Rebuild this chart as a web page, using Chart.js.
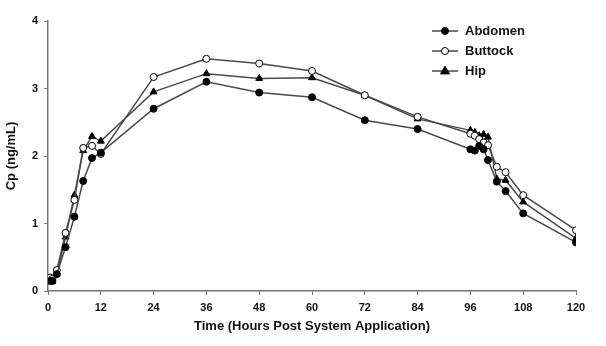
<!DOCTYPE html>
<html>
<head>
<meta charset="utf-8">
<script src="https://cdn.jsdelivr.net/npm/chart.js@4/dist/chart.umd.min.js"></script>
<style>
  html, body { margin: 0; padding: 0; background: #fff; }
  #wrap { width: 606px; height: 346px; }
</style>
</head>
<body>
<div id="wrap"><canvas id="c" width="606" height="346"></canvas></div>
<script>
const times = [0.5, 1, 2, 4, 6, 8, 10, 12, 24, 36, 48, 60, 72, 84, 96, 97, 98, 99, 100, 102, 104, 108, 120];
const abdomen = [0.15, 0.15, 0.25, 0.65, 1.1, 1.63, 1.97, 2.05, 2.7, 3.1, 2.94, 2.87, 2.53, 2.4, 2.1, 2.08, 2.15, 2.1, 1.94, 1.62, 1.48, 1.15, 0.72];
const buttock = [0.2, 0.18, 0.31, 0.86, 1.35, 2.12, 2.15, 2.03, 3.17, 3.44, 3.37, 3.26, 2.9, 2.58, 2.33, 2.3, 2.25, 2.2, 2.16, 1.84, 1.76, 1.42, 0.9];
const hip = [0.14, 0.14, 0.25, 0.8, 1.42, 2.08, 2.29, 2.22, 2.95, 3.22, 3.15, 3.16, 2.9, 2.55, 2.38, 2.35, 2.3, 2.32, 2.28, 1.66, 1.64, 1.32, 0.78];
const xTicks = [0, 12, 24, 36, 48, 60, 72, 84, 96, 108, 120];
const yTicks = [0, 1, 2, 3, 4];
const seriesNames = ['Abdomen', 'Buttock', 'Hip'];

const toPts = arr => times.map((t, i) => ({x: t, y: arr[i]}));
const lineColor = '#4a4a4a';
const FONT = 'Liberation Sans, Arial, sans-serif';

const legendPlugin = {
  id: 'customLegend',
  afterDraw(chart) {
    const ctx = chart.ctx;
    const x0 = 432, y0 = 31, dy = 20;
    chart.data.datasets.forEach((ds, i) => {
      const y = y0 + i * dy;
      ctx.save();
      ctx.strokeStyle = lineColor;
      ctx.lineWidth = 1.5;
      ctx.beginPath();
      ctx.moveTo(x0, y);
      ctx.lineTo(x0 + 26, y);
      ctx.stroke();
      const r = ds.pointRadius;
      ctx.fillStyle = ds.pointBackgroundColor;
      ctx.strokeStyle = ds.pointBorderColor;
      ctx.lineWidth = ds.pointBorderWidth;
      ctx.beginPath();
      const cx = x0 + 13;
      if (ds.pointStyle === 'triangle') {
        const rr = r * 1.2;
        ctx.moveTo(cx, y - rr);
        ctx.lineTo(cx + rr * 0.95, y + rr * 0.6);
        ctx.lineTo(cx - rr * 0.95, y + rr * 0.6);
        ctx.closePath();
      } else {
        ctx.arc(cx, y, r, 0, Math.PI * 2);
      }
      ctx.fill();
      ctx.stroke();
      ctx.fillStyle = '#111';
      ctx.font = 'bold 13px ' + FONT;
      ctx.textBaseline = 'middle';
      ctx.textAlign = 'left';
      ctx.fillText(ds.label, x0 + 33, y);
      ctx.restore();
    });
  }
};

const mk = (label, data, style, fill) => ({
  label,
  data: toPts(data),
  borderColor: lineColor,
  borderWidth: 1.5,
  pointStyle: style,
  pointRadius: style === 'triangle' ? 4 : 3.5,
  pointBackgroundColor: fill,
  pointBorderColor: '#000',
  pointBorderWidth: 1,
  tension: 0,
  fill: false
});

new Chart(document.getElementById('c'), {
  type: 'line',
  data: {
    datasets: [
      mk(seriesNames[0], abdomen, 'circle', '#000'),
      mk(seriesNames[1], buttock, 'circle', '#fff'),
      mk(seriesNames[2], hip, 'triangle', '#000')
    ]
  },
  options: {
    responsive: false,
    animation: false,
    layout: { padding: { top: 21, right: 30, left: 4, bottom: 12 } },
    plugins: { legend: { display: false }, tooltip: { enabled: false } },
    scales: {
      x: {
        type: 'linear',
        min: 0, max: 120,
        afterBuildTicks: s => { s.ticks = xTicks.map(v => ({value: v})); },
        afterFit: s => { s.height = 43; },
        grid: { display: true, drawOnChartArea: false, drawTicks: true, tickLength: 4, color: '#777' },
        border: { display: true, color: '#777', width: 1.5 },
        ticks: { color: '#111', font: { family: FONT, size: 11, weight: 'bold' }, padding: 6, maxRotation: 0 },
        title: { display: true, text: 'Time (Hours Post System Application)', color: '#111', font: { family: FONT, size: 13, weight: 'bold' }, padding: { top: 4, bottom: 0 } }
      },
      y: {
        min: 0, max: 4,
        afterBuildTicks: s => { s.ticks = yTicks.map(v => ({value: v})); },
        afterFit: s => { s.width = 44; },
        grid: { display: true, drawOnChartArea: false, drawTicks: true, tickLength: 4, color: '#777' },
        border: { display: true, color: '#777', width: 1.5 },
        ticks: { color: '#111', font: { family: FONT, size: 11, weight: 'bold' }, padding: 6 },
        title: { display: true, text: 'Cp (ng/mL)', color: '#111', font: { family: FONT, size: 13, weight: 'bold' }, padding: { top: 0, bottom: 4 } }
      }
    }
  },
  plugins: [legendPlugin]
});
</script>
</body>
</html>
